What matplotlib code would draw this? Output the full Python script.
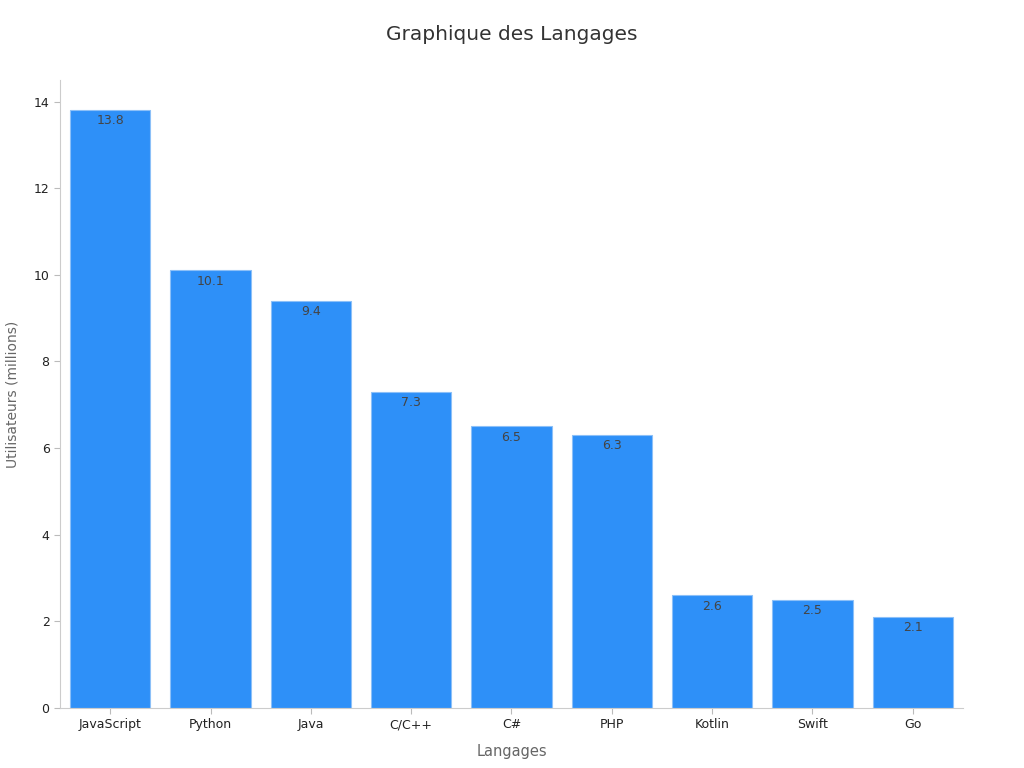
import matplotlib
matplotlib.use('Agg')
import matplotlib.pyplot as plt

# bar data
langages = ['JavaScript', 'Python', 'Java', 'C/C++', 'C#', 'PHP', 'Kotlin', 'Swift', 'Go']
utilisateurs = [13.8, 10.1, 9.4, 7.3, 6.5, 6.3, 2.6, 2.5, 2.1]
y_ticks = [0, 2, 4, 6, 8, 10, 12, 14]

fig = plt.figure(figsize=(10.24, 7.68), dpi=100)
ax = fig.add_axes([0.0586, 0.0781, 0.8818, 0.8179])

bars = ax.bar(langages, utilisateurs, width=0.8, color='#2e90f8',
              edgecolor='#8cc0f8', linewidth=0.8)
for b, v in zip(bars, utilisateurs):
    ax.annotate(f'{v}', (b.get_x() + b.get_width() / 2, v),
                xytext=(0, -3), textcoords='offset points',
                ha='center', va='top', fontsize=9, color='#444444')

ax.set_xlim(-0.5, 8.5)
ax.set_ylim(0, 14.5)
ax.set_yticks(y_ticks)
ax.tick_params(axis='both', labelsize=9, colors='#222222', length=4)
ax.tick_params(axis='both', color='#bbbbbb')

for s in ['top', 'right']:
    ax.spines[s].set_visible(False)
for s in ['left', 'bottom']:
    ax.spines[s].set_color('#cccccc')

ax.set_xlabel('Langages', fontsize=10.5, color='#666666', labelpad=9)
ax.set_ylabel('Utilisateurs (millions)', fontsize=10, color='#666666', labelpad=10)
fig.suptitle('Graphique des Langages', fontsize=14.5, color='#333333', y=0.968)

fig.savefig('out.png', dpi=100)
